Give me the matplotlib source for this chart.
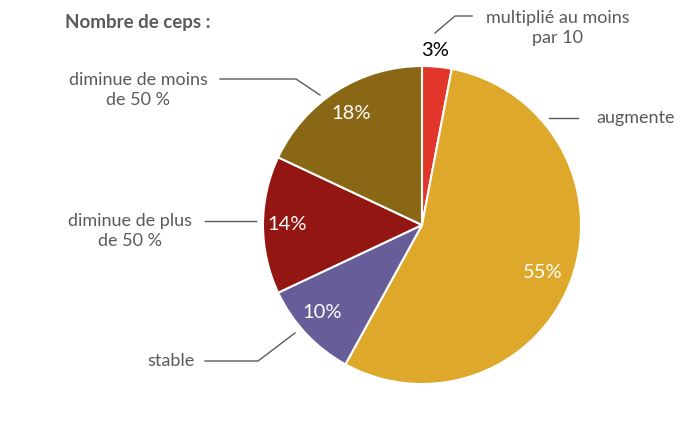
import matplotlib
matplotlib.use("Agg")
import matplotlib.pyplot as plt

categories = ["multiplié au moins\npar 10", "augmente", "stable",
              "diminue de plus\nde 50 %", "diminue de moins\nde 50 %"]
values = [3, 55, 10, 14, 18]
colors = ["#E2362B", "#DEA82A", "#675D99", "#931612", "#8A6714"]

plt.rcParams['font.family'] = ['Lato', 'DejaVu Sans']
H = 425
fig = plt.figure(figsize=(7, 4.25), dpi=100)
ax = fig.add_axes([0, 0, 1, 1])

cx, cy, r = 422, H - 225, 159
wedges, texts = ax.pie(values, colors=colors, startangle=90, counterclock=False,
                       center=(cx, cy), radius=r,
                       wedgeprops=dict(edgecolor='white', linewidth=1.5))
ax.set_xlim(0, 700)
ax.set_ylim(0, H)
ax.set_aspect('equal')
ax.axis('off')

# percent labels (image pixel coords)
pct_pos = [(435, 50), (543, 273), (322, 312), (287, 224), (351, 113)]
for i, (v, (x, y)) in enumerate(zip(values, pct_pos)):
    col = 'black' if i == 0 else 'white'
    ax.text(x, H - y, f"{v}%", ha='center', va='center', fontsize=14.5, color=col)

gray = '#5a5a5a'
# leader lines
lines = [
    [(435, 33), (455, 16), (472, 16)],
    [(549, 118), (578, 118)],
    [(205, 361), (258, 361), (295, 333)],
    [(205, 221), (256, 221)],
    [(220, 79), (296, 79), (320, 95)],
]
for pts in lines:
    ax.plot([p[0] for p in pts], [H - p[1] for p in pts], color=gray, lw=1)

fs = 13
ax.text(558, H - 28, categories[0], ha='center', va='center', fontsize=fs,
        color=gray, linespacing=1.25)
ax.text(596, H - 118, categories[1], ha='left', va='center', fontsize=fs, color=gray)
ax.text(195, H - 361, categories[2], ha='right', va='center', fontsize=fs, color=gray)
ax.text(130, H - 231, categories[3], ha='center', va='center', fontsize=fs,
        color=gray, linespacing=1.25)
ax.text(138, H - 90, categories[4], ha='center', va='center', fontsize=fs,
        color=gray, linespacing=1.25)

ax.text(65, H - 22, "Nombre de ceps :", ha='left', va='center', fontsize=13.5,
        color=gray, fontweight='bold')

fig.savefig("out.png", dpi=100)
